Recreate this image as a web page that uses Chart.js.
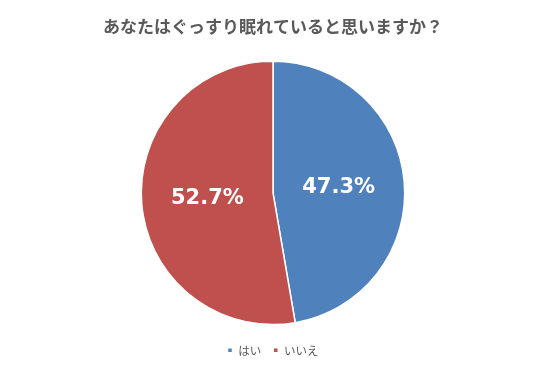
<!DOCTYPE html>
<html>
<head>
<meta charset="utf-8">
<script src="https://cdn.jsdelivr.net/npm/chart.js@4"></script>
<style>
  html, body { margin: 0; padding: 0; background: #fff; }
  #wrap { width: 546px; height: 369px; }
</style>
</head>
<body>
<div id="wrap"><canvas id="pie" width="546" height="369"></canvas></div>
<script>
const title = 'あなたはぐっすり眠れていると思いますか？';
const labels = ['はい', 'いいえ'];
const values = [47.3, 52.7];
const colors = ['#4F81BD', '#C0504D'];

// percent labels drawn at the middle of each slice
const sliceLabels = {
    id: 'sliceLabels',
    afterDatasetsDraw: function (chart) {
        const ctx = chart.ctx;
        const meta = chart.getDatasetMeta(0);
        ctx.save();
        ctx.fillStyle = '#ffffff';
        ctx.font = 'bold 21px "DejaVu Sans", sans-serif';
        ctx.textAlign = 'center';
        ctx.textBaseline = 'middle';
        meta.data.forEach(function (arc, i) {
            const p = arc.tooltipPosition();
            ctx.fillText(values[i].toFixed(1) + '%', p.x, p.y);
        });
        ctx.restore();
    }
};

new Chart(document.getElementById('pie').getContext('2d'), {
    type: 'pie',
    data: {
        labels: labels,
        datasets: [{
            data: values,
            backgroundColor: colors,
            borderColor: '#ffffff',
            borderWidth: 1.5
        }]
    },
    options: {
        responsive: false,
        animation: false,
        layout: { padding: { top: 0, bottom: 3 } },
        plugins: {
            title: {
                display: true,
                text: title,
                color: '#595959',
                font: { family: '"Noto Sans CJK JP", sans-serif', size: 17, weight: 'bold' },
                padding: { top: 16, bottom: 24 }
            },
            legend: {
                position: 'bottom',
                // empty title only adds a gap above the items
                title: { display: true, text: '', font: { size: 6 }, padding: 0 },
                labels: {
                    boxWidth: 5,
                    boxHeight: 5,
                    padding: 12,
                    color: '#595959',
                    font: { family: '"Noto Sans CJK JP", sans-serif', size: 11.5 }
                }
            },
            tooltip: { enabled: false }
        }
    },
    plugins: [sliceLabels]
});
</script>
</body>
</html>
